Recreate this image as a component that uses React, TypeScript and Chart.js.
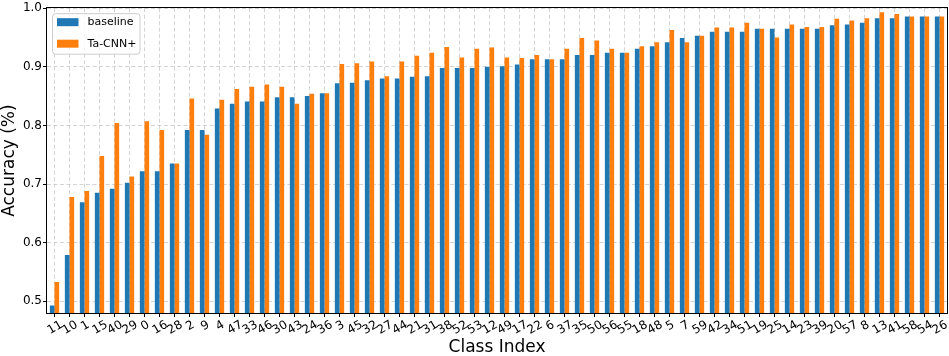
import React, { useEffect, useRef } from 'react';
import { Chart, registerables } from 'chart.js';

Chart.register(...registerables);

const CLASS_LABELS = [
  '11', '10', '1', '15', '40', '29', '0', '16', '28', '2', '9', '4', '47', '33', '46',
  '30', '43', '24', '36', '3', '45', '32', '27', '44', '21', '31', '38', '52', '53', '12',
  '49', '17', '22', '6', '37', '35', '50', '56', '55', '18', '48', '5', '7', '59', '42',
  '34', '51', '19', '25', '14', '23', '39', '20', '57', '8', '13', '41', '58', '54', '26',
];

const BASELINE = [
  0.493, 0.579, 0.669, 0.685, 0.692, 0.702, 0.722, 0.722, 0.735, 0.792, 0.792, 0.829, 0.837, 0.841, 0.841,
  0.848, 0.848, 0.850, 0.855, 0.872, 0.873, 0.877, 0.880, 0.880, 0.883, 0.884, 0.898, 0.898, 0.898, 0.900,
  0.901, 0.904, 0.913, 0.913, 0.913, 0.920, 0.920, 0.924, 0.924, 0.931, 0.935, 0.942, 0.949, 0.953, 0.960,
  0.960, 0.960, 0.965, 0.965, 0.965, 0.965, 0.965, 0.971, 0.972, 0.975, 0.983, 0.983, 0.986, 0.986, 0.986,
];

const TA_CNN = [
  0.533, 0.678, 0.688, 0.748, 0.804, 0.713, 0.807, 0.792, 0.735, 0.846, 0.784, 0.844, 0.862, 0.866, 0.870,
  0.866, 0.837, 0.854, 0.855, 0.905, 0.906, 0.909, 0.884, 0.909, 0.919, 0.924, 0.934, 0.916, 0.931, 0.933,
  0.916, 0.915, 0.920, 0.913, 0.931, 0.949, 0.945, 0.931, 0.924, 0.935, 0.942, 0.963, 0.942, 0.953, 0.967,
  0.967, 0.975, 0.965, 0.950, 0.972, 0.968, 0.968, 0.982, 0.979, 0.983, 0.993, 0.990, 0.986, 0.986, 0.986,
];

const Y_TICKS = [0.5, 0.6, 0.7, 0.8, 0.9, 1.0];
const Y_MIN = 0.48;
const Y_MAX = 1.0;

const FONT = "'DejaVu Sans', sans-serif";

const framePlugin = {
  id: 'frame',
  afterDatasetsDraw(chart: any) {
    const { ctx, chartArea } = chart;
    const l = Math.round(chartArea.left) - 0.5;
    const t = Math.round(chartArea.top) - 0.5;
    const r = Math.round(chartArea.right) + 0.5;
    const b = Math.round(chartArea.bottom) + 0.5;
    ctx.save();
    ctx.strokeStyle = '#000';
    ctx.lineWidth = 1;
    ctx.setLineDash([]);
    ctx.strokeRect(l, t, r - l, b - t);
    ctx.restore();
  },
};

const legendPlugin = {
  id: 'insideLegend',
  afterDatasetsDraw(chart: any) {
    const { ctx, chartArea } = chart;
    const x0 = chartArea.left + 5;
    const y0 = chartArea.top + 5;
    const w = 87.5;
    const h = 40.5;
    ctx.save();
    ctx.beginPath();
    ctx.roundRect(x0 + 0.5, y0 + 0.5, w, h, 3);
    ctx.fillStyle = 'rgba(255,255,255,0.85)';
    ctx.fill();
    ctx.strokeStyle = '#cccccc';
    ctx.lineWidth = 1;
    ctx.stroke();
    ctx.font = `11px ${FONT}`;
    ctx.textBaseline = 'middle';
    ctx.textAlign = 'left';
    chart.data.datasets.forEach((ds: any, i: number) => {
      const cy = y0 + 9 + i * 21.5;
      ctx.fillStyle = ds.backgroundColor;
      ctx.fillRect(x0 + 5, cy - 4, 21.5, 8);
      ctx.fillStyle = '#000';
      ctx.fillText(ds.label, x0 + 35.5, cy);
    });
    ctx.restore();
  },
};

const xLabelPlugin = {
  id: 'xLabels',
  afterDraw(chart: any) {
    const { ctx } = chart;
    const xs = chart.scales.x;
    const labels = chart.data.labels as string[];
    const size = 12;
    const ang = Math.PI / 6;
    const top = xs.top + 6;
    ctx.save();
    ctx.font = `${size}px ${FONT}`;
    ctx.fillStyle = '#000';
    ctx.textAlign = 'center';
    ctx.textBaseline = 'alphabetic';
    labels.forEach((lab, i) => {
      const x = xs.getPixelForTick(i);
      const w = ctx.measureText(lab).width;
      const hgt = size * 0.73;
      const H = w * Math.sin(ang) + hgt * Math.cos(ang);
      ctx.save();
      ctx.translate(x, top + H / 2);
      ctx.rotate(-ang);
      ctx.fillText(lab, 0, size * 0.365);
      ctx.restore();
    });
    ctx.restore();
  },
};

export default function App() {
  const ref = useRef<HTMLCanvasElement>(null);

  useEffect(() => {
    document.body.style.margin = '0';
    const canvas = ref.current;
    if (!canvas) return;
    Chart.defaults.font.family = FONT;
    Chart.defaults.color = '#000';

    const gridColor = 'rgba(176,176,176,0.55)';

    const chart = new Chart(canvas, {
      type: 'bar',
      data: {
        labels: CLASS_LABELS,
        datasets: [
          {
            label: 'baseline',
            data: BASELINE,
            backgroundColor: '#1f77b4',
            borderWidth: 0,
            categoryPercentage: 0.62,
            barPercentage: 1.0,
          },
          {
            label: 'Ta-CNN+',
            data: TA_CNN,
            backgroundColor: '#ff7f0e',
            borderWidth: 0,
            categoryPercentage: 0.62,
            barPercentage: 1.0,
          },
        ],
      },
      options: {
        responsive: false,
        maintainAspectRatio: false,
        animation: false,
        layout: { padding: { top: 5, right: 2, left: 0, bottom: 0 } },
        plugins: {
          legend: { display: false },
          tooltip: { enabled: false },
        },
        scales: {
          x: {
            type: 'category',
            offset: true,
            afterFit(scale: any) {
              scale.height = 43;
            },
            grid: {
              offset: false,
              color: gridColor,
              lineWidth: 1,
              drawTicks: true,
              tickLength: 4,
              tickColor: '#000',
              tickWidth: 1,
              tickBorderDash: [],
            },
            border: { display: false, dash: [4, 2.5] },
            ticks: { display: false, autoSkip: false },
            title: {
              display: true,
              text: 'Class Index',
              color: '#000',
              font: { size: 17, family: FONT, lineHeight: 1 },
              padding: { top: 0, bottom: 0 },
            },
          },
          y: {
            type: 'linear',
            min: Y_MIN,
            max: Y_MAX,
            afterBuildTicks(scale: any) {
              scale.ticks = Y_TICKS.map((v) => ({ value: v }));
            },
            afterFit(scale: any) {
              scale.width = 47;
            },
            grid: {
              color: gridColor,
              lineWidth: 1,
              drawTicks: true,
              tickLength: 4,
              tickColor: '#000',
              tickWidth: 1,
              tickBorderDash: [],
            },
            border: { display: false, dash: [4, 2.5] },
            ticks: {
              color: '#000',
              padding: 1,
              font: { size: 12, family: FONT },
              callback: (v: any) => Number(v).toFixed(1),
            },
            title: {
              display: true,
              text: 'Accuracy (%)',
              color: '#000',
              font: { size: 17, family: FONT, lineHeight: 1 },
              padding: { top: 1, bottom: 0 },
            },
          },
        },
      },
      plugins: [framePlugin, legendPlugin, xLabelPlugin],
    });

    return () => {
      chart.destroy();
    };
  }, []);

  return (
    <div style={{ width: 949, height: 356 }}>
      <canvas ref={ref} width={949} height={356} style={{ display: 'block' }} />
    </div>
  );
}
